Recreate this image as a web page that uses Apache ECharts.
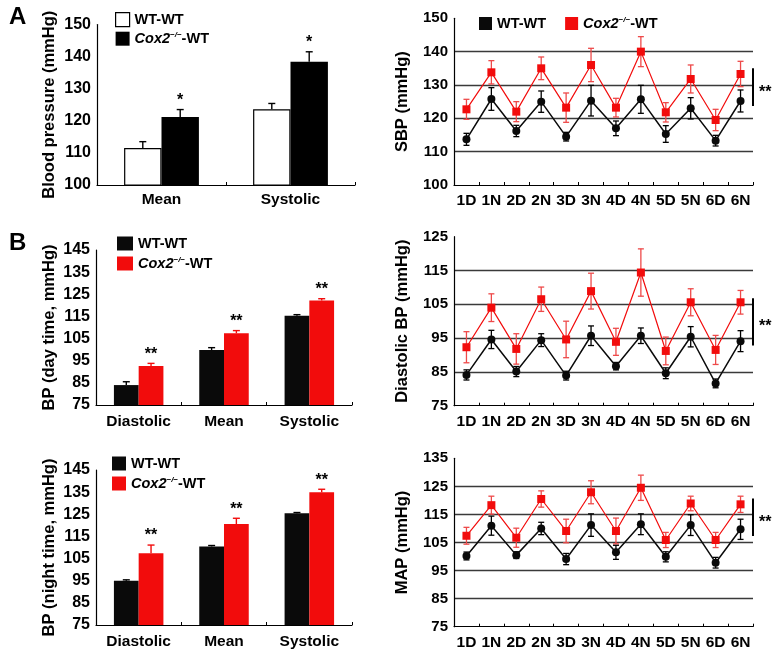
<!DOCTYPE html>
<html><head><meta charset="utf-8">
<script src="https://cdn.jsdelivr.net/npm/echarts@6/dist/echarts.min.js"></script>
<style>html,body{margin:0;padding:0;background:#fff}#c{width:776px;height:653px}</style>
</head><body><div id="c"></div>
<script>
// ---------- DATA ----------
const catsA = ['Mean', 'Systolic'];
const aWT = [111.5, 123.6];
const aWTErr = [2.0, 1.8];
const aKO = [121.2, 138.4];
const aKOErr = [2.3, 3.1];
const aStars = ['*', '*'];

const catsB = ['Diastolic', 'Mean', 'Systolic'];
const dayWT = [84.0, 99.8, 115.3];
const dayWTErr = [1.5, 1.1, 0.5];
const dayKO = [92.6, 107.4, 122.2];
const dayKOErr = [1.2, 1.2, 0.8];
const dayStars = ['**', '**', '**'];

const nightWT = [95.0, 110.5, 125.5];
const nightWTErr = [0.4, 0.4, 0.3];
const nightKO = [107.4, 120.6, 135.0];
const nightKOErr = [3.7, 2.6, 1.3];
const nightStars = ['**', '**', '**'];

const timeCats = ['1D','1N','2D','2N','3D','3N','4D','4N','5D','5N','6D','6N'];
const sbpWT = [113.7,125.8,116.2,125.0,114.5,125.3,117.0,125.7,115.3,123.0,113.3,125.2];
const sbpWTErr = [1.8,3.4,1.7,3.2,1.3,4.6,2.2,4.2,2.5,3.2,1.6,3.3];
const sbpKO = [122.7,133.8,122.0,135.0,123.2,136.0,123.2,140.0,121.8,131.8,119.5,133.3];
const sbpKOErr = [3.0,3.5,3.0,3.4,4.4,5.0,2.8,4.5,2.9,4.2,3.2,3.8];
const sbpSig = [123.7, 135.0];

const dbpWT = [84.1,94.6,85.1,94.4,83.9,95.7,86.7,95.7,84.6,95.4,81.6,94.1];
const dbpWTErr = [1.5,2.7,1.5,1.9,1.3,2.9,1.1,2.3,1.6,3.0,1.3,3.1];
const dbpKO = [92.3,104.0,91.8,106.5,94.6,108.9,93.9,114.4,91.2,105.6,91.5,105.6];
const dbpKOErr = [4.6,4.1,4.5,3.6,5.4,5.3,4.0,7.0,4.1,4.0,4.3,3.5];
const dbpSig = [92.8, 106.8];

const mapWT = [100.2,111.0,100.5,110.0,99.1,111.2,101.5,111.5,99.9,111.2,97.8,109.7];
const mapWTErr = [1.4,3.4,1.2,2.2,2.0,4.0,2.5,3.7,1.8,3.7,1.9,3.6];
const mapKO = [107.4,118.3,106.7,120.5,109.1,122.9,109.1,124.5,105.9,118.9,105.9,118.6];
const mapKOErr = [3.0,3.2,3.4,2.9,4.2,4.1,4.6,4.5,2.7,2.6,2.7,2.9];
const mapSig = [107.3, 120.7];

// ---------- STYLE ----------
const FONT = '"Liberation Sans", Arial, Helvetica, sans-serif';
const RED = '#f20c0c';
const RED_ERR = '#ee4a4a';
const BLK = '#0a0a0a';
const GAP = 0.42;

const chart = echarts.init(document.getElementById('c'), null, {renderer: 'canvas'});

function xCat(gi, data, margin) {
  return {
    type: 'category', gridIndex: gi, data: data,
    axisLine: {show: true, lineStyle: {color: '#000', width: 1.2}},
    axisTick: {show: true, inside: true, length: 3, lineStyle: {color: '#000'}},
    axisLabel: {color: '#000', fontSize: 15.5, fontWeight: 'bold', fontFamily: FONT, margin: margin, interval: 0},
    splitLine: {show: false}
  };
}
function yVal(gi, min, max, name, gap, grid, fs) {
  return {
    type: 'value', gridIndex: gi, min: min, max: max, interval: 10,
    name: name, nameLocation: 'middle', nameGap: gap,
    nameTextStyle: {color: '#000', fontSize: 16.5, fontWeight: 'bold', fontFamily: FONT},
    axisLine: {show: true, lineStyle: {color: '#000', width: 1.2}},
    axisTick: {show: false},
    axisLabel: {color: '#000', fontSize: fs, fontWeight: 'bold', fontFamily: FONT, margin: 6},
    splitLine: grid ? {show: true, showMinLine: false, showMaxLine: false, lineStyle: {color: '#3a3a3a', width: 1.3}} : {show: false}
  };
}
function bar(name, gi, vals, style) {
  return {
    type: 'bar', name: name, xAxisIndex: gi, yAxisIndex: gi, data: vals,
    barGap: '0%', barCategoryGap: (GAP * 100) + '%', itemStyle: style, z: 2
  };
}
function barErr(gi, vals, errs, side, color, stars) {
  return {
    type: 'custom', xAxisIndex: gi, yAxisIndex: gi, z: 3,
    data: vals.map((v, i) => [i, v, errs[i]]),
    renderItem: function (params, api) {
      const i = api.value(0), v = api.value(1), e = api.value(2);
      const band = api.size([1, 0])[0];
      const bw = band * (1 - GAP) / 2;
      const p = api.coord([i, v]);
      const cx = p[0] + side * bw / 2;
      const yT = api.coord([i, v + e])[1];
      const cap = 3.5;
      const ch = [
        {type: 'line', shape: {x1: cx, y1: p[1], x2: cx, y2: yT}, style: {stroke: color, lineWidth: 1.4}},
        {type: 'line', shape: {x1: cx - cap, y1: yT, x2: cx + cap, y2: yT}, style: {stroke: color, lineWidth: 1.4}}
      ];
      if (stars) ch.push({type: 'text', style: {text: stars[params.dataIndex], x: cx, y: yT - 1,
        align: 'center', verticalAlign: 'bottom', font: 'bold 16px ' + FONT, fill: '#000'}});
      return {type: 'group', children: ch};
    }
  };
}
function lineS(name, gi, vals, color, symbol, w) {
  return {
    type: 'line', name: name, xAxisIndex: gi, yAxisIndex: gi, data: vals,
    symbol: symbol, symbolSize: 8, showSymbol: true,
    lineStyle: {color: color, width: w}, itemStyle: {color: color}, z: 3
  };
}
function ptErr(gi, vals, errs, color) {
  return {
    type: 'custom', xAxisIndex: gi, yAxisIndex: gi, z: 2,
    data: vals.map((v, i) => [i, v, errs[i]]),
    renderItem: function (params, api) {
      const i = api.value(0), v = api.value(1), e = api.value(2);
      const a = api.coord([i, v + e]), b = api.coord([i, v - e]);
      const cap = 3;
      const st = {stroke: color, lineWidth: 1.3};
      return {type: 'group', children: [
        {type: 'line', shape: {x1: a[0], y1: a[1], x2: b[0], y2: b[1]}, style: st},
        {type: 'line', shape: {x1: a[0] - cap, y1: a[1], x2: a[0] + cap, y2: a[1]}, style: st},
        {type: 'line', shape: {x1: b[0] - cap, y1: b[1], x2: b[0] + cap, y2: b[1]}, style: st}
      ]};
    }
  };
}
function sig(gi, range) {
  return {
    type: 'custom', xAxisIndex: gi, yAxisIndex: gi, z: 4,
    data: [[0, range[0], range[1]]],
    renderItem: function (params, api) {
      const cs = params.coordSys;
      const x = cs.x + cs.width;
      const y1 = api.coord([0, api.value(1)])[1];
      const y2 = api.coord([0, api.value(2)])[1];
      return {type: 'group', children: [
        {type: 'line', shape: {x1: x, y1: y1, x2: x, y2: y2}, style: {stroke: '#000', lineWidth: 2}},
        {type: 'text', style: {text: '**', x: x + 6, y: (y1 + y2) / 2 + 5, align: 'left', verticalAlign: 'middle',
          font: 'bold 16px ' + FONT, fill: '#000'}}
      ]};
    }
  };
}

const richTxt = {
  color: '#000', fontSize: 14.5, fontWeight: 'bold', fontFamily: FONT,
  rich: {
    i: {fontStyle: 'italic', fontWeight: 'bold', fontSize: 14.5, fontFamily: FONT, color: '#000'},
    s: {fontStyle: 'italic', fontSize: 8, fontFamily: FONT, color: '#000', verticalAlign: 'top'},
    n: {fontSize: 14.5, fontWeight: 'bold', fontFamily: FONT, color: '#000'}
  }
};
function legFmt(name) { return name.slice(-2) === 'WT' ? 'WT-WT' : '{i|Cox2}{s|\u2212/\u2212}{n|-WT}'; }
function legend(left, top, orient, items, iw, ih, gap) {
  return {
    left: left, top: top, orient: orient, itemWidth: iw, itemHeight: ih, itemGap: gap,
    selectedMode: false, icon: 'rect', formatter: legFmt, textStyle: richTxt, padding: 0,
    data: items
  };
}

const option = {
  animation: false,
  backgroundColor: '#fff',
  textStyle: {fontFamily: FONT},
  graphic: [
    {type: 'text', left: 9, top: 5, style: {text: 'A', font: 'bold 24px ' + FONT, fill: '#000'}},
    {type: 'text', left: 9, top: 231, style: {text: 'B', font: 'bold 24px ' + FONT, fill: '#000'}}
  ],
  grid: [
    {left: 97, top: 24.5, width: 258, height: 160.5},
    {left: 96, top: 250, width: 256, height: 155},
    {left: 96, top: 470, width: 256, height: 155},
    {left: 454, top: 18.3, width: 299, height: 166.7},
    {left: 454, top: 236.7, width: 299, height: 169},
    {left: 454, top: 458.3, width: 299, height: 168.4}
  ],
  xAxis: [
    xCat(0, catsA, 7), xCat(1, catsB, 9), xCat(2, catsB, 9),
    xCat(3, timeCats, 8), xCat(4, timeCats, 8), xCat(5, timeCats, 8)
  ],
  yAxis: [
    yVal(0, 100, 150, 'Blood pressure (mmHg)', 39, false, 16),
    yVal(1, 75, 145, 'BP (day time, mmHg)', 38, false, 16),
    yVal(2, 75, 145, 'BP (night time, mmHg)', 38, false, 16),
    yVal(3, 100, 150, 'SBP (mmHg)', 43, true, 15),
    yVal(4, 75, 125, 'Diastolic BP (mmHg)', 43, true, 15),
    yVal(5, 75, 135, 'MAP (mmHg)', 43, true, 15)
  ],
  legend: [
    legend(115, 12, 'vertical', [
      {name: 'A_WT', itemStyle: {color: '#fff', borderColor: '#000', borderWidth: 1.2}},
      {name: 'A_KO', itemStyle: {color: '#000'}}], 14, 14, 4),
    legend(117, 236, 'vertical', [
      {name: 'D_WT', itemStyle: {color: BLK}}, {name: 'D_KO', itemStyle: {color: RED}}], 16, 14, 5),
    legend(112, 456, 'vertical', [
      {name: 'N_WT', itemStyle: {color: BLK}}, {name: 'N_KO', itemStyle: {color: RED}}], 14, 14, 5),
    legend(479, 16, 'horizontal', [
      {name: 'S_WT', itemStyle: {color: BLK}}, {name: 'S_KO', itemStyle: {color: RED}}], 13, 13, 19)
  ],
  series: [
    bar('A_WT', 0, aWT, {color: '#fff', borderColor: '#000', borderWidth: 1.2}),
    bar('A_KO', 0, aKO, {color: '#000'}),
    barErr(0, aWT, aWTErr, -1, '#000', null),
    barErr(0, aKO, aKOErr, 1, '#000', aStars),

    bar('D_WT', 1, dayWT, {color: BLK}),
    bar('D_KO', 1, dayKO, {color: RED}),
    barErr(1, dayWT, dayWTErr, -1, '#000', null),
    barErr(1, dayKO, dayKOErr, 1, RED, dayStars),

    bar('N_WT', 2, nightWT, {color: BLK}),
    bar('N_KO', 2, nightKO, {color: RED}),
    barErr(2, nightWT, nightWTErr, -1, '#000', null),
    barErr(2, nightKO, nightKOErr, 1, RED, nightStars),

    ptErr(3, sbpKO, sbpKOErr, RED_ERR),
    ptErr(3, sbpWT, sbpWTErr, '#000'),
    lineS('S_KO', 3, sbpKO, RED, 'rect', 1.2),
    lineS('S_WT', 3, sbpWT, BLK, 'circle', 1.5),
    sig(3, sbpSig),

    ptErr(4, dbpKO, dbpKOErr, RED_ERR),
    ptErr(4, dbpWT, dbpWTErr, '#000'),
    lineS('DB_KO', 4, dbpKO, RED, 'rect', 1.2),
    lineS('DB_WT', 4, dbpWT, BLK, 'circle', 1.5),
    sig(4, dbpSig),

    ptErr(5, mapKO, mapKOErr, RED_ERR),
    ptErr(5, mapWT, mapWTErr, '#000'),
    lineS('M_KO', 5, mapKO, RED, 'rect', 1.2),
    lineS('M_WT', 5, mapWT, BLK, 'circle', 1.5),
    sig(5, mapSig)
  ]
};
chart.setOption(option);
</script>
</body></html>
